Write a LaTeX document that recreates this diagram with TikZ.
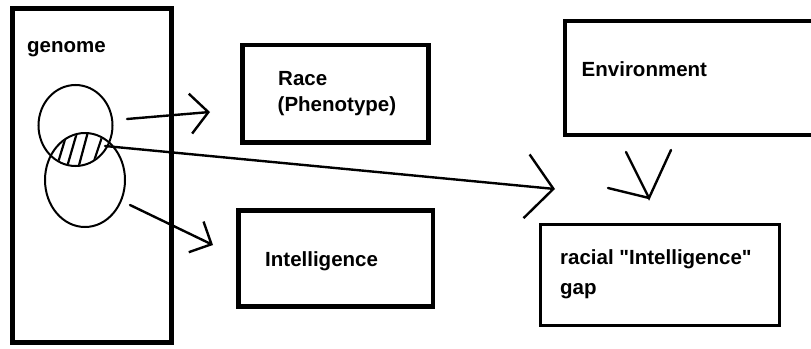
\documentclass[tikz,border=0pt]{standalone}
\usepackage{fontspec}
\newfontfamily\lsans{Liberation Sans}
\usetikzlibrary{arrows.meta,shapes.geometric}
\begin{document}
\begin{tikzpicture}[x=1pt,y=-1pt,
  lbl/.style={font=\lsans\fontsize{20.5}{24}\selectfont\bfseries, anchor=base west, inner sep=0pt},
  box/.style={draw, rectangle, inner sep=0pt},
  oval/.style={draw, ellipse, inner sep=0pt, line width=2pt},
  stroke/.style={line width=2.4pt, line cap=round},
  hatch/.style={line width=2.2pt, line cap=round},
]
\useasboundingbox (0,0) rectangle (811,348);
\fill[white] (0,0) rectangle (811,348);

% boxes
\node[box, line width=5pt, minimum width=159pt, minimum height=334pt] (genomebox) at (91.5,175.5) {};
\node[box, line width=4.5pt, minimum width=186pt, minimum height=97.5pt] (racebox) at (335.5,93.75) {};
\node[box, line width=4.5pt, minimum width=194.5pt, minimum height=96pt] (intbox) at (335.75,258.5) {};
\node[box, line width=3.3pt, minimum width=265pt, minimum height=114pt] (envbox) at (697.5,78) {};
\node[box, line width=3pt, minimum width=239.5pt, minimum height=100.5pt] (gapbox) at (659.75,274.75) {};

% texts
\node[lbl] (genometxt) at (27,52) {genome};
\node[lbl] (racetxt) at (278,85.7) {Race};
\node[lbl] (phenotxt) at (277.5,111.7) {(Phenotype)};
\node[lbl] (inttxt) at (265,266.7) {Intelligence};
\node[lbl] (envtxt) at (581.5,76.7) {Environment};
\node[lbl] (gaptxt1) at (560,264) {racial "Intelligence"};
\node[lbl] (gaptxt2) at (560,294) {gap};

% circles
\node[oval, minimum width=74pt, minimum height=81pt] (circA) at (75.5,125.5) {};
\node[oval, minimum width=80pt, minimum height=94pt] (circB) at (85,180) {};

% hatching
\begin{scope}
  \clip (75.5,125.5) ellipse [x radius=36, y radius=39.5];
  \clip (85,180) ellipse [x radius=39, y radius=46];
  \draw[hatch] (57,166) -- (67,133);
  \draw[hatch] (67,167) -- (78,129);
  \draw[hatch] (78,169) -- (89,128);
  \draw[hatch] (93,164) -- (102,137);
\end{scope}

% arrows
\coordinate (a1s) at (127,119);
\coordinate (a1t) at (210,112);
\coordinate (a2s) at (130,205);
\coordinate (a2t) at (213,245);
\coordinate (a3s) at (105,146);
\coordinate (a3t) at (555,189);
\draw[stroke, -{Straight Barb[length=18pt,width=40pt]}] (a1s) -- (a1t);
\draw[stroke, -{Straight Barb[length=17pt,width=34pt]}] (a2s) -- (a2t);
\draw[stroke, -{Straight Barb[length=27pt,width=64pt]}] (a3s) -- (a3t);

% environment mark
\coordinate (vt) at (649,198);
\coordinate (v1) at (626,152);
\coordinate (v2) at (671,150);
\coordinate (v3) at (608,188);
\draw[stroke] (v1) -- (vt) -- (v2);
\draw[stroke] (v3) -- (vt);
\end{tikzpicture}
\end{document}
